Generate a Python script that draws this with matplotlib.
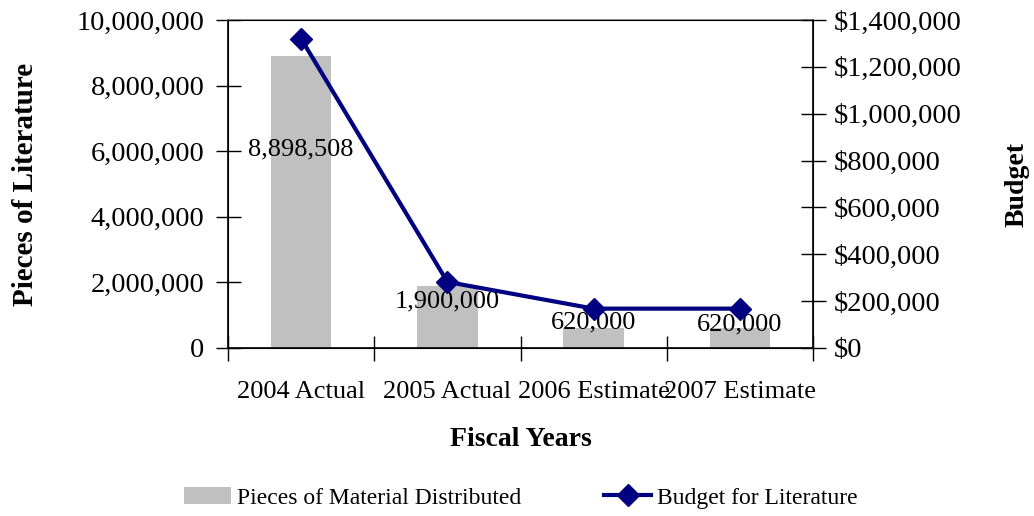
import matplotlib.pyplot as plt
from matplotlib.ticker import FuncFormatter, MultipleLocator

plt.rcParams['font.family'] = ['Liberation Serif', 'DejaVu Serif']

years = ['2004 Actual', '2005 Actual', '2006 Estimate', '2007 Estimate']
pieces = [8898508, 1900000, 620000, 620000]
budget = [1320000, 282000, 168000, 168000]
bar_labels = ['8,898,508', '1,900,000', '620,000', '620,000']
label_y = [6050000, 1410000, 780000, 730000]

fs = 19
yfs = 20.5
fig = plt.figure(figsize=(10.34, 5.16), dpi=100)
ax = fig.add_axes([0.2205, 0.3256, 0.5658, 0.6356])
x = range(len(years))

bars = ax.bar(x, pieces, width=0.415, color='#c0c0c0', zorder=1,
              label='Pieces of Material Distributed')
for i in x:
    ax.text(i, label_y[i], bar_labels[i], ha='center', va='center', fontsize=fs, zorder=5)

ax.set_xlim(-0.5, 3.5)
ax.set_ylim(0, 10000000)
ax.yaxis.set_major_locator(MultipleLocator(2000000))
ax.yaxis.set_major_formatter(FuncFormatter(lambda v, p: '{:,.0f}'.format(v)))
ax.set_xticks([-0.5, 0.5, 1.5, 2.5, 3.5])
ax.set_xticklabels([])
ax.set_xticks(list(x), minor=True)
ax.set_xticklabels(years, minor=True, fontsize=fs)
ax.tick_params(axis='x', which='minor', length=0, pad=24)
ax.tick_params(axis='x', which='major', direction='inout', length=18, width=1)
ax.tick_params(axis='y', direction='inout', length=18, width=1, labelsize=yfs, pad=8)
ax.set_xlabel('Fiscal Years', fontsize=fs + 1, fontweight='bold', labelpad=17)
ax.set_ylabel('Pieces of Literature', fontsize=21, fontweight='bold', labelpad=27)
ax.spines['top'].set_color('#808080')
for s in ax.spines.values():
    s.set_linewidth(1.2)

ax2 = ax.twinx()
ax2.plot(x, budget, color='#000080', lw=3, marker='D', markersize=11,
         label='Budget for Literature', zorder=4)
ax2.set_ylim(0, 1400000)
ax2.yaxis.set_major_locator(MultipleLocator(200000))
ax2.yaxis.set_major_formatter(FuncFormatter(lambda v, p: '${:,.0f}'.format(v)))
ax2.tick_params(axis='y', direction='inout', length=18, width=1, labelsize=yfs, pad=6)
ax2.set_ylabel('Budget', fontsize=20, fontweight='bold', labelpad=31)
ax2.yaxis.label.set_rotation(90)

h1, l1 = ax.get_legend_handles_labels()
h2, l2 = ax2.get_legend_handles_labels()
fig.legend(h1 + h2, l1 + l2, loc='center', bbox_to_anchor=(0.504, 0.035), ncol=2,
           frameon=False, fontsize=17, handlelength=2.0, handletextpad=0.25,
           columnspacing=3.5)

fig.savefig('out.png', dpi=100)
